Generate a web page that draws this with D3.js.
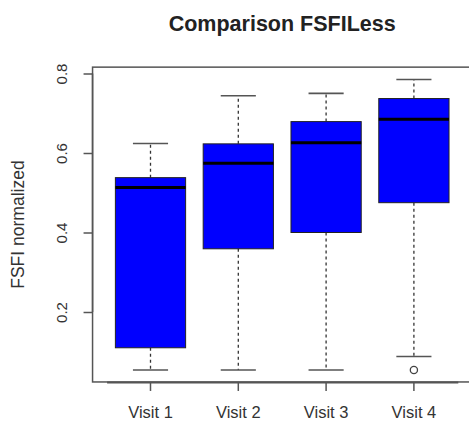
<!DOCTYPE html>
<html>
<head>
<meta charset="utf-8">
<script src="https://cdn.jsdelivr.net/npm/d3@7"></script>
<style>
html,body{margin:0;padding:0;background:#fff;}
svg{display:block;}
text{font-family:"Liberation Sans",Arial,Helvetica,sans-serif;}
</style>
</head>
<body>
<div id="chart"></div>
<script>
// ---- data ----
const categories = ["Visit 1", "Visit 2", "Visit 3", "Visit 4"];
const whiskerLow  = [0.054, 0.054, 0.054, 0.088];
const q1          = [0.110, 0.359, 0.400, 0.475];
const median      = [0.513, 0.574, 0.626, 0.685];
const q3          = [0.538, 0.623, 0.679, 0.737];
const whiskerHigh = [0.624, 0.744, 0.750, 0.785];
const outliers    = [[], [], [], [0.054]];
const yTicks      = [0.2, 0.4, 0.6, 0.8];
const title = "Comparison FSFILess";
const yLabel = "FSFI normalized";

// ---- layout ----
const W = 469, H = 423;
const svg = d3.select("#chart").append("svg").attr("width", W).attr("height", H);

const y = d3.scaleLinear().domain([0.2, 0.8]).range([312, 73.5]);
const x = d3.scaleBand().domain(categories).range([106.6, 457.8])
  .paddingInner(0.2).paddingOuter(0.1);
const step = x.step();
const frameL = x.range()[0] - 0.16 * step;
const frameR = x.range()[1] + 0.16 * step;
const frameT = y(0.816), frameB = y(0.024);
const axisCol = "#555";

// title
svg.append("text").attr("x", (frameL + frameR) / 2).attr("y", 31)
  .attr("text-anchor", "middle").attr("font-weight", "bold").attr("font-size", 21.5)
  .attr("fill", "#222").text(title);

// y label
svg.append("text").attr("transform", `translate(24,${(frameT+frameB)/2}) rotate(-90)`)
  .attr("text-anchor", "middle").attr("font-size", 17.5).attr("fill", "#333").text(yLabel);

const data = categories.map((c, i) => ({
  c, lo: whiskerLow[i], q1: q1[i], med: median[i], q3: q3[i], hi: whiskerHigh[i], out: outliers[i]
}));

const g = svg.append("g");
data.forEach(d => {
  const cx = x(d.c) + x.bandwidth() / 2;
  const bw = x.bandwidth();
  const cap = bw / 2;
  // whiskers (dashed)
  g.append("line").attr("x1", cx).attr("x2", cx).attr("y1", y(d.q3)).attr("y2", y(d.hi))
    .attr("stroke", "#333").attr("stroke-dasharray", "3,3").attr("stroke-width", 1.3);
  g.append("line").attr("x1", cx).attr("x2", cx).attr("y1", y(d.q1)).attr("y2", y(d.lo))
    .attr("stroke", "#333").attr("stroke-dasharray", "3,3").attr("stroke-width", 1.3);
  // staples
  [d.lo, d.hi].forEach(v => {
    g.append("line").attr("x1", cx - cap / 2).attr("x2", cx + cap / 2)
      .attr("y1", y(v)).attr("y2", y(v)).attr("stroke", "#555").attr("stroke-width", 1.6);
  });
  // box
  g.append("rect").attr("x", x(d.c)).attr("width", bw)
    .attr("y", y(d.q3)).attr("height", y(d.q1) - y(d.q3))
    .attr("fill", "#0000ff").attr("stroke", "#222").attr("stroke-width", 1);
  // median
  g.append("line").attr("x1", x(d.c)).attr("x2", x(d.c) + bw)
    .attr("y1", y(d.med)).attr("y2", y(d.med)).attr("stroke", "#000").attr("stroke-width", 3);
  // outliers
  d.out.forEach(v => {
    g.append("circle").attr("cx", cx).attr("cy", y(v)).attr("r", 3.6)
      .attr("fill", "none").attr("stroke", "#444").attr("stroke-width", 1.3);
  });
});

// frame
svg.append("rect").attr("x", frameL).attr("y", frameT)
  .attr("width", frameR - frameL).attr("height", frameB - frameT)
  .attr("fill", "none").attr("stroke", axisCol).attr("stroke-width", 1.5);

// y axis
const yAxis = svg.append("g").attr("transform", `translate(${frameL},0)`)
  .call(d3.axisLeft(y).tickValues(yTicks).tickSize(9).tickFormat(d3.format(".1f")));
yAxis.select(".domain").attr("stroke", axisCol).attr("stroke-width", 1.5)
  .attr("d", `M0,${y(yTicks[0])}V${y(yTicks[yTicks.length-1])}`);
yAxis.selectAll(".tick line").attr("stroke", axisCol).attr("stroke-width", 1.5);
yAxis.selectAll(".tick text").attr("font-size", 15).attr("fill", "#333")
  .attr("font-family", null)
  .attr("x", null).attr("dy", null)
  .attr("transform", "translate(-30.5,0) rotate(-90)")
  .attr("text-anchor", "middle").attr("dominant-baseline", "auto")
  .attr("y", 5);

// x axis
const xAxis = svg.append("g").attr("transform", `translate(0,${frameB})`)
  .call(d3.axisBottom(x).tickSize(9).tickSizeOuter(0));
xAxis.select(".domain").attr("stroke", axisCol).attr("stroke-width", 2);
xAxis.selectAll(".tick line").attr("stroke", axisCol).attr("stroke-width", 1.5);
xAxis.selectAll(".tick text").attr("font-size", 16.5).attr("fill", "#333")
  .attr("font-family", null).attr("dy", null).attr("y", 36);
</script>
</body>
</html>
